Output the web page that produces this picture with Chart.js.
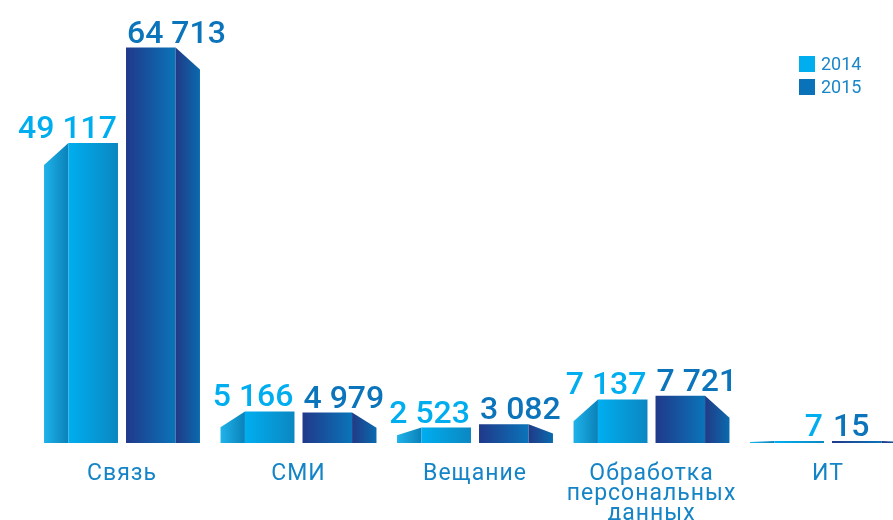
<!DOCTYPE html>
<html lang="ru">
<head>
<meta charset="utf-8">
<title>Связь, СМИ, Вещание</title>
<script src="https://cdn.jsdelivr.net/npm/chart.js@4/dist/chart.umd.min.js"></script>
<style>
  html, body { margin: 0; padding: 0; background: #fff; overflow: hidden; }
</style>
</head>
<body>
<canvas id="chart" width="893" height="520"></canvas>
<script>
// ---- data ----
var categories = ['Связь', 'СМИ', 'Вещание', ['Обработка', 'персональных', 'данных'], 'ИТ'];
var years = ['2014', '2015'];
var values2014 = [49117, 5166, 2523, 7137, 7];
var values2015 = [64713, 4979, 3082, 7721, 15];
var yMax = 72500;

// ---- colours ----
var legendColors = ['#00aeef', '#0a72b8'];
var labelColors = ['#00aeef', '#0b74ba'];
// [side from, side to, front from, front to]
var faceColors = [
    ['#1fb3ea', '#0a81b9', '#00aeef', '#0b87c2'],
    ['#213a86', '#0a6aae', '#20398a', '#0a74b9']
];

function fmt(v) {
    return String(v).replace(/\B(?=(\d{3})+(?!\d))/g, ' ');
}

function grad(ctx, x0, x1, c0, c1) {
    var g = ctx.createLinearGradient(x0, 0, x1, 0);
    g.addColorStop(0, c0);
    g.addColorStop(1, c1);
    return g;
}

function poly(ctx, pts, fill) {
    ctx.beginPath();
    ctx.moveTo(pts[0][0], pts[0][1]);
    for (var k = 1; k < pts.length; k++) ctx.lineTo(pts[k][0], pts[k][1]);
    ctx.closePath();
    ctx.fillStyle = fill;
    ctx.fill();
}

// draws the bars as prisms, the value labels and the legend
var prismPlugin = {
    id: 'prism',
    beforeDraw: function (chart) {
        chart.ctx.letterSpacing = '1px';
    },
    afterDatasetsDraw: function (chart) {
        var ctx = chart.ctx;
        ctx.save();
        ctx.letterSpacing = '0px';
        chart.data.datasets.forEach(function (ds, di) {
            var meta = chart.getDatasetMeta(di);
            var fc = faceColors[di];
            meta.data.forEach(function (bar, i) {
                var p = bar.getProps(['x', 'y', 'base', 'width'], true);
                var L = p.x - p.width / 2, R = p.x + p.width / 2;
                var top = p.y, base = p.base;
                var sw = p.width * 0.33;
                var d = Math.min(22, (base - top) / 2);
                if (di === 0) {
                    var m = L + sw;
                    poly(ctx, [[L, top + d], [m, top], [m, base], [L, base]], grad(ctx, L, m, fc[0], fc[1]));
                    poly(ctx, [[m, top], [R, top], [R, base], [m, base]], grad(ctx, m, R, fc[2], fc[3]));
                } else {
                    var n = R - sw;
                    poly(ctx, [[L, top], [n, top], [n, base], [L, base]], grad(ctx, L, n, fc[2], fc[3]));
                    poly(ctx, [[n, top], [R, top + d], [R, base], [n, base]], grad(ctx, n, R, fc[0], fc[1]));
                }
                // value label
                ctx.font = '500 32px Roboto';
                ctx.fillStyle = labelColors[di];
                ctx.textBaseline = 'alphabetic';
                if (di === 0) {
                    ctx.textAlign = 'right';
                    ctx.fillText(fmt(ds.data[i]), R - 1, top - 5);
                } else {
                    ctx.textAlign = 'left';
                    ctx.fillText(fmt(ds.data[i]), L + 1, top - 5);
                }
            });
        });
        // legend
        ctx.font = '18px Roboto';
        ctx.textAlign = 'left';
        ctx.textBaseline = 'middle';
        chart.data.datasets.forEach(function (ds, di) {
            var y = 56 + di * 23;
            ctx.fillStyle = legendColors[di];
            ctx.fillRect(799, y, 16, 16);
            ctx.fillStyle = '#1a86c8';
            ctx.fillText(ds.label, 821, y + 9);
        });
        ctx.restore();
    }
};

var ctx = document.getElementById('chart').getContext('2d');
var chart = new Chart(ctx, {
    type: 'bar',
    data: {
        labels: categories,
        datasets: [{
            label: years[0],
            data: values2014,
            backgroundColor: 'rgba(0,0,0,0)',
            minBarLength: 2
        }, {
            label: years[1],
            data: values2015,
            backgroundColor: 'rgba(0,0,0,0)',
            minBarLength: 2
        }]
    },
    options: {
        responsive: false,
        animation: false,
        categoryPercentage: 0.929,
        barPercentage: 0.902,
        layout: { padding: { left: 122, right: 65, top: 0, bottom: 0 } },
        plugins: {
            legend: { display: false },
            tooltip: { enabled: false }
        },
        scales: {
            x: {
                offset: false,
                grid: { display: false },
                border: { display: false },
                ticks: {
                    autoSkip: false,
                    maxRotation: 0,
                    padding: 13,
                    color: '#1484c6',
                    font: { family: 'Roboto', size: 23, lineHeight: '20px' }
                },
                afterFit: function (scale) { scale.height = 77; }
            },
            y: {
                display: false,
                min: 0,
                max: yMax
            }
        }
    },
    plugins: [prismPlugin]
});
</script>
</body>
</html>
